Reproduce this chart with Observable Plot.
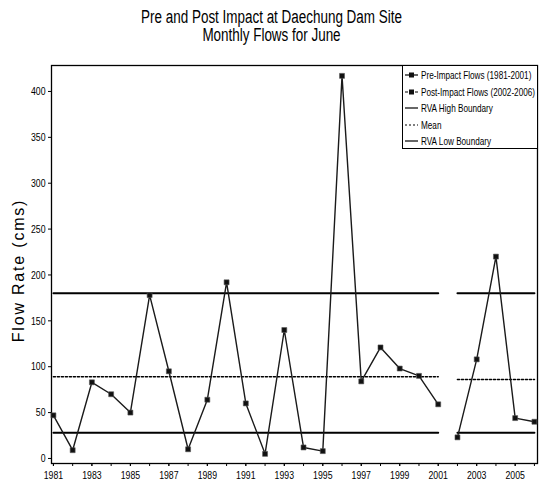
<!DOCTYPE html>
<html>
<head>
<meta charset="utf-8">
<script src="https://cdn.jsdelivr.net/npm/d3@7"></script>
<script src="https://cdn.jsdelivr.net/npm/@observablehq/plot@0.6"></script>
<style>
  html, body { margin: 0; padding: 0; background: #fff; }
  #chart { position: relative; width: 541px; height: 480px; overflow: hidden; }
  #legend {
    position: absolute; left: 402px; top: 65px; width: 136px; height: 84px;
    border: 1px solid #000; background: #fff; box-sizing: border-box;
    font-family: "Liberation Sans", Arial, sans-serif;
    font-size: 11px; color: #000; padding-top: 1px; overflow: hidden;
  }
  #legend .row { display: flex; align-items: center; height: 16.5px; white-space: nowrap; }
  #legend svg { margin-left: 2px; margin-right: 3px; flex: none; }
  #legend span { display: inline-block; transform-origin: 0 50%; }
</style>
</head>
<body>
<div id="chart"></div>
<script>
// June monthly flows (cms) at the Daechung Dam site
const preYears = [1981, 1982, 1983, 1984, 1985, 1986, 1987, 1988, 1989, 1990, 1991,
                  1992, 1993, 1994, 1995, 1996, 1997, 1998, 1999, 2000, 2001];
const preFlows = [47, 9, 83, 70, 50, 178, 95, 10, 64, 192, 60,
                  5, 140, 12, 8, 417, 84, 121, 98, 90, 59];
const postYears = [2002, 2003, 2004, 2005, 2006];
const postFlows = [23, 108, 220, 44, 40];

// RVA boundaries and mean for each period
const preStats = {high: 180, mean: 89, low: 28};
const postStats = {high: 180, mean: 86, low: 28};
const prePeriod = [1981, 2001];
const postPeriod = [2002, 2006];

const yTicks = [0, 50, 100, 150, 200, 250, 300, 350, 400];
const xLabelTicks = [1981, 1983, 1985, 1987, 1989, 1991, 1993, 1995, 1997, 1999, 2001, 2003, 2005];
const xMinorTicks = d3.range(1981, 2007);

const titleLines = ["Pre and Post Impact at Daechung Dam Site", "Monthly Flows for June"];
const yTitle = "Flow Rate (cms)";

const pre = preYears.map((year, i) => ({year, flow: preFlows[i]}));
const post = postYears.map((year, i) => ({year, flow: postFlows[i]}));

function segment(period, value) {
  return [{year: period[0], v: value}, {year: period[1], v: value}];
}
const solidRefs = [
  segment(prePeriod, preStats.high), segment(prePeriod, preStats.low),
  segment(postPeriod, postStats.high), segment(postPeriod, postStats.low)
];
const meanRefs = [segment(prePeriod, preStats.mean), segment(postPeriod, postStats.mean)];

const sans = '"Liberation Sans", Arial, sans-serif';

const chart = Plot.plot({
  width: 541,
  height: 480,
  marginLeft: 51,
  marginRight: 4,
  marginTop: 65,
  marginBottom: 17,
  style: {fontFamily: sans, fontSize: "11.5px", color: "#000", background: "#fff"},
  x: {domain: [1980.9, 2006.16]},
  y: {domain: [-5.5, 428.3]},
  marks: [
    Plot.frame({stroke: "#000", strokeWidth: 1.3}),
    // RVA high / low boundaries
    ...solidRefs.map(seg => Plot.line(seg, {x: "year", y: "v", stroke: "#000", strokeWidth: 2})),
    // period means
    ...meanRefs.map(seg => Plot.line(seg, {x: "year", y: "v", stroke: "#000", strokeWidth: 1.6, strokeDasharray: "2,2"})),
    // flow series
    Plot.line(pre, {x: "year", y: "flow", stroke: "#1a1a1a", strokeWidth: 1.4}),
    Plot.dot(pre, {x: "year", y: "flow", symbol: "square", r: 2.8, fill: "#111", stroke: "#555", strokeWidth: 0.6}),
    Plot.line(post, {x: "year", y: "flow", stroke: "#1a1a1a", strokeWidth: 1.4}),
    Plot.dot(post, {x: "year", y: "flow", symbol: "square", r: 2.8, fill: "#111", stroke: "#555", strokeWidth: 0.6}),
    // axes
    Plot.axisY(yTicks, {tickSize: 3, tickPadding: 3, label: null, fontSize: 11.5}),
    Plot.axisX(xMinorTicks, {tickSize: 3, text: null, label: null}),
    Plot.axisX(xLabelTicks, {tickSize: 3, tickPadding: 4, label: null, fontSize: 11.5, tickFormat: d => String(d)}),
    // titles
    Plot.text([titleLines[0]], {frameAnchor: "top", dy: -55, dx: -23, fontSize: 18, fill: "#000"}),
    Plot.text([titleLines[1]], {frameAnchor: "top", dy: -37, dx: -23, fontSize: 18, fill: "#000"}),
    Plot.text([yTitle], {frameAnchor: "left", textAnchor: "middle", dx: -33, dy: 6, rotate: -90, fontSize: 16, fill: "#000"})
  ]
});

const host = document.getElementById("chart");
host.appendChild(chart);

// condensed lettering: squeeze text horizontally about its anchor point
function squeeze(el, s) {
  const t = el.getAttribute("transform") || "";
  const x = +el.getAttribute("x") || 0;
  el.setAttribute("transform", `${t} translate(${x},0) scale(${s},1) translate(${-x},0)`);
}
const allTexts = Array.from(chart.querySelectorAll("text"));
const titleTexts = allTexts.filter(el => titleLines.includes(el.textContent));
const yTitleText = allTexts.find(el => el.textContent === yTitle);
if (yTitleText) yTitleText.style.letterSpacing = "1.8px";
const titleScale = titleTexts.length ? 261 / titleTexts[0].getComputedTextLength() : 0.85;
titleTexts.forEach(el => squeeze(el, titleScale));
allTexts.forEach(el => {
  if (titleTexts.includes(el) || el === yTitleText) return;
  squeeze(el, 0.76);
});

// legend box
const legendItems = [
  {label: "Pre-Impact Flows (1981-2001)", dash: null, marker: true},
  {label: "Post-Impact Flows (2002-2006)", dash: "3,2", marker: true},
  {label: "RVA High Boundary", dash: null, marker: false},
  {label: "Mean", dash: "2,2", marker: false},
  {label: "RVA Low Boundary", dash: null, marker: false}
];
const legend = document.createElement("div");
legend.id = "legend";
const spans = [];
for (const item of legendItems) {
  const row = document.createElement("div");
  row.className = "row";
  const sw = d3.create("svg").attr("width", 13).attr("height", 8);
  sw.append("line").attr("x1", 0).attr("x2", 13).attr("y1", 4).attr("y2", 4)
    .attr("stroke", "#000").attr("stroke-width", 1.2)
    .attr("stroke-dasharray", item.dash);
  if (item.marker) {
    sw.append("rect").attr("x", 4).attr("y", 1.5).attr("width", 5).attr("height", 5).attr("fill", "#111");
  }
  row.appendChild(sw.node());
  const span = document.createElement("span");
  span.textContent = item.label;
  row.appendChild(span);
  spans.push(span);
  legend.appendChild(row);
}
host.appendChild(legend);
const widest = Math.max(...spans.map(s => s.getBoundingClientRect().width));
const legendScale = 114 / widest;
spans.forEach(s => { s.style.transform = `scaleX(${legendScale})`; });
</script>
</body>
</html>
